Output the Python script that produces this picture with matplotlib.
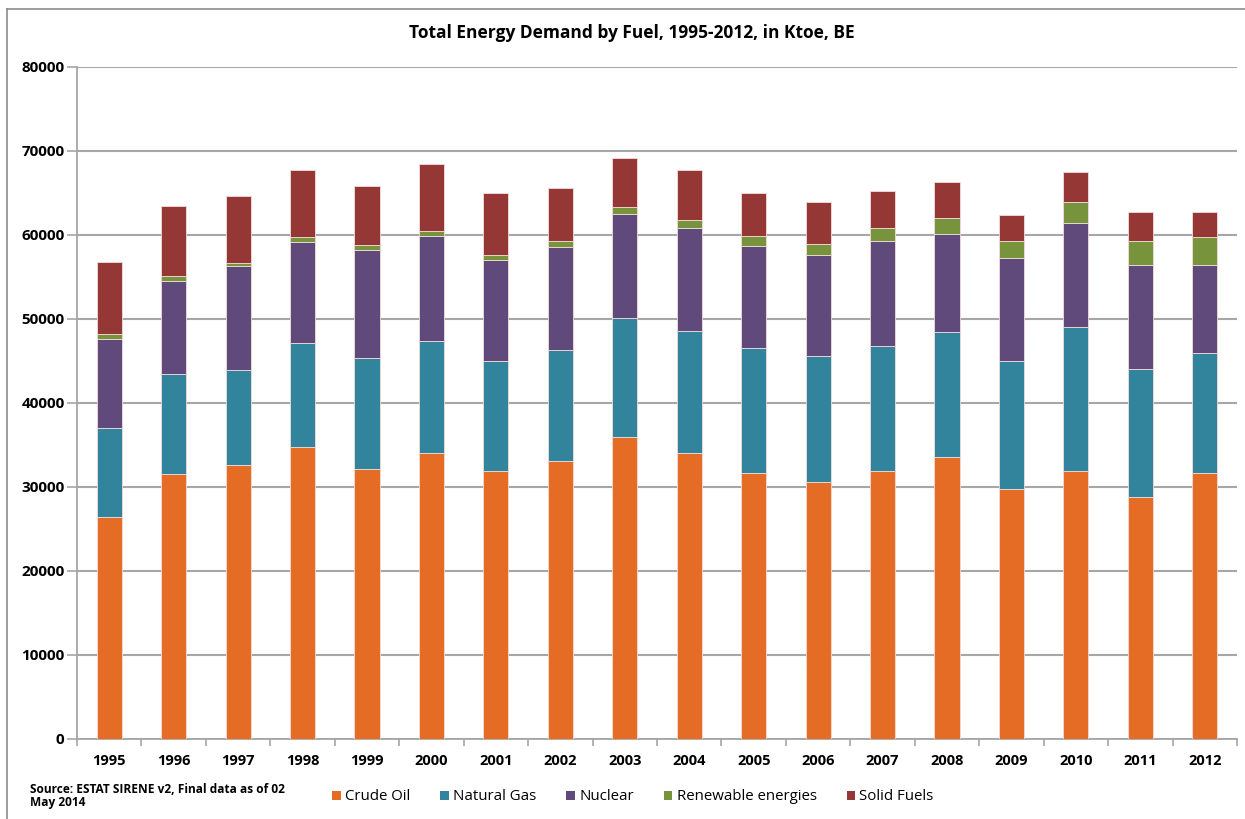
import matplotlib
matplotlib.use("Agg")
import matplotlib.pyplot as plt
import numpy as np
from matplotlib.lines import Line2D
from matplotlib.patches import Patch

years = ["1995", "1996", "1997", "1998", "1999", "2000", "2001", "2002", "2003",
         "2004", "2005", "2006", "2007", "2008", "2009", "2010", "2011", "2012"]
crude_oil = [26400, 31550, 32660, 34800, 32100, 34050, 31900, 33060, 35910,
             34010, 31700, 30550, 31900, 33610, 29800, 31900, 28840, 31700]
natural_gas = [10630, 11950, 11240, 12360, 13310, 13310, 13150, 13300, 14230,
               14620, 14820, 15020, 14860, 14860, 15250, 17130, 15260, 14310]
nuclear = [10640, 11050, 12360, 11960, 12750, 12510, 11960, 12160, 12400,
           12190, 12190, 12030, 12560, 11600, 12160, 12390, 12360, 10450]
renewables = [600, 600, 440, 590, 600, 600, 590, 800, 790,
              960, 1160, 1320, 1500, 1910, 2110, 2470, 2860, 3250]
solid_fuels = [8530, 8340, 7940, 7990, 7030, 8030, 7440, 6270, 5880,
               5920, 5170, 5000, 4380, 4370, 3020, 3610, 3450, 3060]

series_names = ["Crude Oil", "Natural Gas", "Nuclear", "Renewable energies", "Solid Fuels"]
series = [crude_oil, natural_gas, nuclear, renewables, solid_fuels]
colors = ["#E46C24", "#31849B", "#604A7B", "#77933C", "#953734"]
yticks = [0, 10000, 20000, 30000, 40000, 50000, 60000, 70000, 80000]

plt.rcParams['font.family'] = ['Open Sans', 'DejaVu Sans']

W, H = 1245, 819
fig = plt.figure(figsize=(W / 100, H / 100), dpi=100)
fig.patch.set_facecolor("white")

# outer chart frame (left and top visible)
fig.add_artist(Line2D([7 / W, 7 / W], [0, 1 - 9 / H], transform=fig.transFigure,
                      color="#8C8C8C", lw=1.2))
fig.add_artist(Line2D([7 / W, 1], [1 - 9 / H, 1 - 9 / H], transform=fig.transFigure,
                      color="#8C8C8C", lw=1.2))

left, right, top, bottom = 77, 1237, 67, 739
ax = fig.add_axes([left / W, 1 - bottom / H, (right - left) / W, (bottom - top) / H])

x = np.arange(len(years))
base = np.zeros(len(years))
for name, vals, c in zip(series_names, series, colors):
    ax.bar(x, vals, bottom=base, width=0.39, color=c, edgecolor="#F2DCDB",
           linewidth=0.6, label=name, zorder=3)
    base = base + np.array(vals)

ax.set_xlim(-0.5, len(years) - 0.5)
ax.set_ylim(0, 80000)
ax.set_yticks(yticks)
ax.set_yticklabels([str(v) for v in yticks], fontsize=11, fontweight="bold", color="#000000")
ax.yaxis.grid(True, color="#A6A6A6", linewidth=1.5, zorder=0)
ax.set_axisbelow(True)

ax.set_xticks(x)
ax.set_xticklabels(years, fontsize=10.5, fontweight="bold")
ax.tick_params(axis="x", length=0, pad=11)
ax.set_xticks(np.arange(-0.5, len(years)), minor=True)
ax.tick_params(axis="x", which="minor", length=5, color="#A6A6A6", width=1.2)
ax.tick_params(axis="y", length=7, color="#A6A6A6", width=1.2, pad=2)

for s in ["top", "right"]:
    ax.spines[s].set_visible(False)
for s in ["left", "bottom"]:
    ax.spines[s].set_color("#A6A6A6")
    ax.spines[s].set_linewidth(1.3)

fig.text(632 / W, 1 - 33 / H, "Total Energy Demand by Fuel, 1995-2012, in Ktoe, BE",
         ha="center", va="center", fontsize=12.5, fontweight="bold")

fig.text(30 / W, 1 - 796 / H, "Source: ESTAT SIRENE v2, Final data as of 02\nMay 2014",
         ha="left", va="center", fontsize=8.6, fontweight="bold", linespacing=1.05)

handles = [Patch(facecolor=c, edgecolor="none") for c in colors]
leg = fig.legend(handles, series_names, loc="center", bbox_to_anchor=(633 / W, 1 - 797 / H),
                 ncol=5, frameon=False, fontsize=10.8, handlelength=0.55, handleheight=0.55,
                 handletextpad=0.3, columnspacing=2.0)

fig.savefig("out.png", dpi=100, facecolor="white")
